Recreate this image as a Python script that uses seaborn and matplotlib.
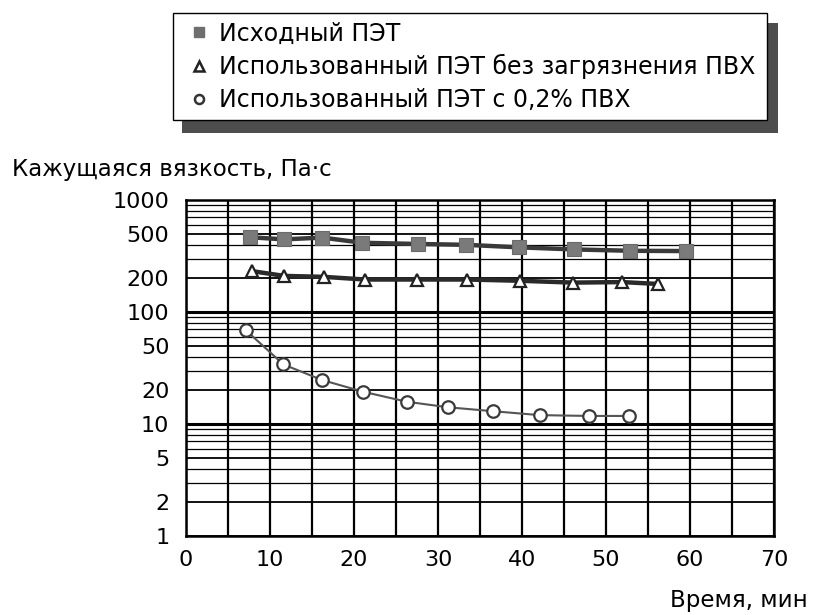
import numpy as np
import pandas as pd
import matplotlib
matplotlib.use("Agg")
import matplotlib.pyplot as plt
import seaborn as sns
from matplotlib.lines import Line2D
from matplotlib.patches import Rectangle

# ---- data ----
series_labels = ["Исходный ПЭТ",
                 "Использованный ПЭТ без загрязнения ПВХ",
                 "Использованный ПЭТ с 0,2% ПВХ"]
x_sq = [7.6, 11.7, 16.2, 21.0, 27.6, 33.3, 39.6, 46.2, 52.9, 59.5]
y_sq = [465, 445, 462, 415, 405, 398, 378, 362, 352, 350]
x_tri = [7.8, 11.7, 16.4, 21.3, 27.5, 33.5, 39.8, 46.1, 51.9, 56.2]
y_tri = [232, 210, 206, 195, 195, 195, 190, 183, 185, 178]
x_circ = [7.1, 11.6, 16.2, 21.1, 26.3, 31.2, 36.6, 42.1, 48.0, 52.7]
y_circ = [69, 34, 24.7, 19.4, 15.8, 14.1, 13.0, 12.0, 11.8, 11.8]
x_ticks = [0, 10, 20, 30, 40, 50, 60, 70]
y_ticks = [1, 2, 5, 10, 20, 50, 100, 200, 500, 1000]
y_tick_labels = ["1", "2", "5", "10", "20", "50", "100", "200", "500", "1000"]
x_label = "Время, мин"
y_label = "Кажущаяся вязкость, Па·с"

sns.set_style("white")
plt.rcParams["font.family"] = ["DejaVu Sans"]
plt.rcParams["text.color"] = "black"

W, H = 818, 615
fig = plt.figure(figsize=(W / 100, H / 100), dpi=100)
ax = fig.add_axes([186 / W, 1 - 536 / H, (774 - 186) / W, (536 - 200) / H])

df_sq = pd.DataFrame({"x": x_sq, "y": y_sq})
df_tri = pd.DataFrame({"x": x_tri, "y": y_tri})
df_circ = pd.DataFrame({"x": x_circ, "y": y_circ})

sns.lineplot(data=df_sq, x="x", y="y", ax=ax, color="#3a3a3a", lw=3.2,
             marker="s", markersize=9.5, markerfacecolor="#7a7a7a",
             markeredgecolor="#6a6a6a", markeredgewidth=0.8, sort=False, zorder=5)
sns.lineplot(data=df_tri, x="x", y="y", ax=ax, color="#2a2a2a", lw=3.2,
             marker="^", markersize=9, markerfacecolor="white",
             markeredgecolor="#222222", markeredgewidth=1.6, sort=False, zorder=5)
sns.lineplot(data=df_circ, x="x", y="y", ax=ax, color="#555555", lw=1.5,
             marker="o", markersize=9, markerfacecolor="white",
             markeredgecolor="#3a3a3a", markeredgewidth=1.6, sort=False, zorder=5)

ax.set_yscale("log")
ax.set_xlim(0, 70)
ax.set_ylim(1, 1000)
ax.set_xticks(x_ticks)
ax.set_xticks(np.arange(0, 71, 5), minor=True)
ax.set_yticks(y_ticks)
ax.set_yticklabels(y_tick_labels)
minor_y = [m * d for d in (1, 10, 100) for m in (3, 4, 6, 7, 8, 9)]
ax.set_yticks(minor_y, minor=True)
ax.yaxis.set_minor_formatter(matplotlib.ticker.NullFormatter())
ax.set_xlabel("")
ax.set_ylabel("")

ax.grid(which="major", axis="x", color="black", lw=1.6)
ax.grid(which="minor", axis="x", color="black", lw=1.6)
ax.grid(which="major", axis="y", color="black", lw=1.3)
ax.grid(which="minor", axis="y", color="black", lw=0.9)
for v in (10, 100):
    ax.axhline(v, color="black", lw=2.2, zorder=1)
ax.set_axisbelow(True)

ax.tick_params(which="both", length=0)
ax.tick_params(axis="x", pad=10, labelsize=16, colors="black")
ax.tick_params(axis="y", pad=12, labelsize=16, colors="black")
for s in ax.spines.values():
    s.set_visible(True)
    s.set_color("black")
    s.set_linewidth(1.8)

# legend box with shadow
shadow = Rectangle((182 / W, 1 - 133 / H), (778 - 182) / W, (133 - 23) / H,
                   transform=fig.transFigure, facecolor="#4d4d4d",
                   edgecolor="none", zorder=1)
box = Rectangle((173 / W, 1 - 120 / H), (767 - 173) / W, (120 - 13) / H,
                transform=fig.transFigure, facecolor="white",
                edgecolor="black", lw=1.0, zorder=2)
fig.add_artist(shadow)
fig.add_artist(box)

handles = [
    Line2D([], [], ls="none", marker="s", ms=7, mfc="#6e6e6e", mec="#6e6e6e"),
    Line2D([], [], ls="none", marker="^", ms=7.5, mfc="white", mec="#222222", mew=1.8),
    Line2D([], [], ls="none", marker="o", ms=6.5, mfc="white", mec="#333333", mew=1.8),
]
leg = fig.legend(handles, series_labels, loc="upper left",
                 bbox_to_anchor=(175 / W, 1 - 5 / H), frameon=False,
                 fontsize=17, handlelength=0.65, handletextpad=0.5,
                 labelspacing=0.37, borderpad=0.2)
leg.set_zorder(3)
for t in leg.get_texts():
    t.set_color("black")

fig.text(12 / W, 1 - 170 / H, y_label, ha="left", va="center", fontsize=16.5)
fig.text(808 / W, 1 - 600 / H, x_label, ha="right", va="center", fontsize=16.5)

fig.savefig("out.png", dpi=100)
